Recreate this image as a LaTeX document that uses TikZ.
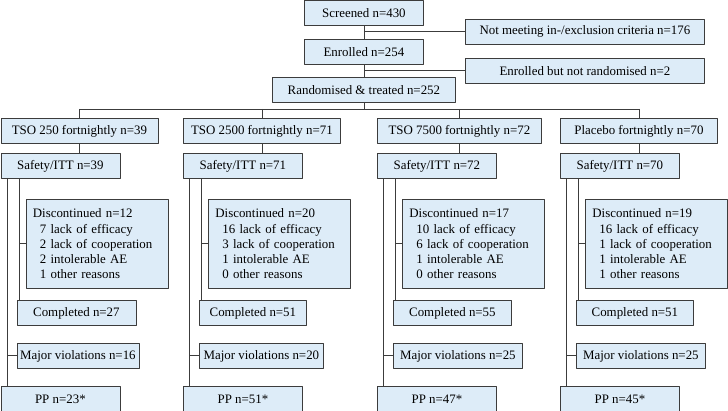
\documentclass[tikz,border=0pt]{standalone}
\usepackage{fontspec}
\setmainfont{Liberation Serif}
\definecolor{boxblue}{RGB}{221,236,248}
\definecolor{linegray}{RGB}{60,60,60}

\begin{document}
\begin{tikzpicture}[x=1pt,y=-1pt,line join=round,
    box/.style={draw=linegray,fill=boxblue,line width=0.8pt,inner sep=0pt,
        anchor=north west,minimum height=25pt,font=\fontsize{12.9}{15.2}\selectfont},
    link/.style={draw=linegray,line width=0.8pt}]
    \useasboundingbox (0,0) rectangle (728,411);
    \node[box,minimum width=119pt] (scr) at (304,0.5) {Screened n=430};
    \node[box,minimum width=239pt] (excl) at (465,19) {Not meeting in-/exclusion criteria n=176};
    \node[box,minimum width=119pt] (enr) at (304,39) {Enrolled n=254};
    \node[box,minimum width=239pt] (notrand) at (465,58) {Enrolled but not randomised n=2};
    \node[box,minimum width=183pt] (rand) at (272,77) {Randomised \& treated n=252};
    \coordinate (bus) at (364,109);
    \draw[link] (scr.south) -- (enr.north) (excl.west -| scr.south) -- (excl.west);
    \draw[link] (enr.south) -- (rand.north) (notrand.west -| enr.south) -- (notrand.west);
    \draw[link] (rand.south) -- (rand.south |- bus);
    \foreach \i/\xl/\armw/\arm/\n/\dis/\nef/\nco/\nin/\nor/\compw/\comp/\majw/\maj/\pp in {%
        1/0.5/157/TSO 250 fortnightly/39/12/7/2/2/1/119/27/122/16/23,
        2/183/157/TSO 2500 fortnightly/71/20/16/3/1/0/107/51/124/20/51,
        3/377/164/TSO 7500 fortnightly/72/17/10/6/1/0/118/55/129/25/47,
        4/560/157/Placebo fortnightly/70/19/16/1/1/1/117/51/129/25/45}{%
        \node[box,minimum width=\armw pt] (arm\i) at (\xl,118) {\arm{} n=\n};
        \node[box,minimum width=119pt] (itt\i) at (\xl,153) {Safety/ITT n=\n};
        \node[box,minimum height=89pt,text width=128pt,inner xsep=7pt,align=left] (disc\i) at (\xl+25,199)
            {Discontinued n=\dis\\\hspace*{7pt}\nef{} lack of efficacy\\\hspace*{7pt}\nco{} lack of cooperation\\
             \hspace*{7pt}\nin{} intolerable AE\\\hspace*{7pt}\nor{} other reasons};
        \node[box,minimum width=\compw pt] (comp\i) at (\xl+16,300) {Completed n=\comp};
        \node[box,minimum width=\majw pt] (maj\i) at (\xl+16,343) {Major violations n=\maj};
        \node[box,minimum width=119pt] (pp\i) at (\xl,386) {PP n=\pp*};
        \coordinate (out\i) at ([xshift=6.5pt]itt\i.south west);
        \coordinate (in\i) at ([xshift=18.5pt]itt\i.south west);
        \draw[link] (arm\i.north |- bus) -- (arm\i.north) (arm\i.south) -- (arm\i.south |- itt\i.north);
        \draw[link] (out\i) -- (out\i |- pp\i.north) (out\i |- maj\i.west) -- (maj\i.west);
        \draw[link] (in\i) -- (in\i |- comp\i.north) (in\i |- disc\i.west) -- (disc\i.west);
    }
    \draw[link] (arm1.north |- bus) -- (arm4.north |- bus);
\end{tikzpicture}
\end{document}
